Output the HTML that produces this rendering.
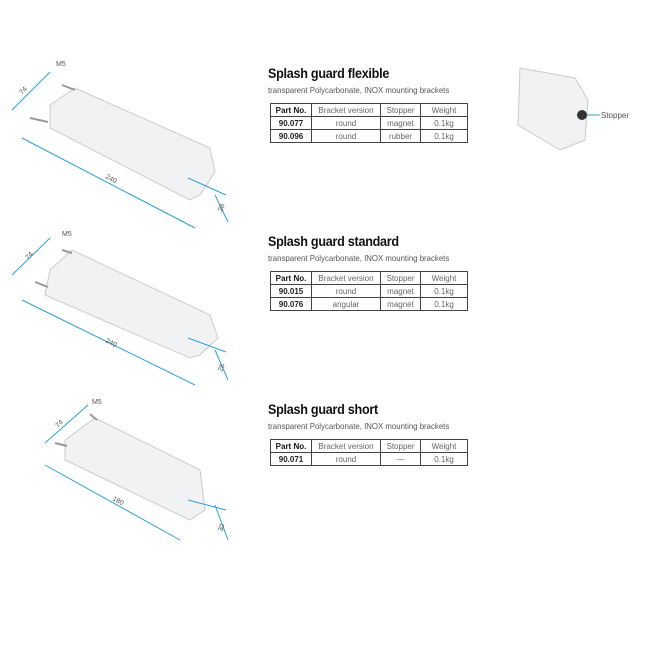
<html><body style="margin:0;width:649px;height:649px;background:#fff;position:relative;font-family:'Liberation Sans',sans-serif;overflow:hidden">
<style>
.t{position:absolute;left:268px;font-weight:bold;font-size:14px;color:#111;letter-spacing:-0.3px;transform:scaleX(0.9);transform-origin:left}
.s{position:absolute;left:268px;font-size:8.5px;color:#555;transform:scaleX(0.92);transform-origin:left}
table{position:absolute;left:270px;border-collapse:collapse;font-size:8px;color:#666}
td{border:1px solid #444;height:13px;padding:0;text-align:center}
td:first-child{font-weight:bold;color:#222}
tr:first-child td:first-child{color:#111}
</style>
<svg width="649" height="649" style="position:absolute;left:0;top:0" font-family="Liberation Sans" font-size="7" fill="#555">
<g stroke="#ccc" stroke-width="1" fill="#f1f2f4">
<polygon points="50,105 75,88 210,148 215,172 200,195 190,200 50,128"/>
<polygon points="50,270 72,250 210,315 218,338 200,355 190,358 45,295"/>
<polygon points="65,440 95,418 200,470 205,510 190,520 65,460"/>
<polygon points="520,68 575,78 588,100 585,140 560,150 518,125"/>
</g>
<g stroke="#999" stroke-width="2"><line x1="62" y1="85" x2="75" y2="90"/><line x1="30" y1="118" x2="48" y2="122"/>
<line x1="62" y1="250" x2="72" y2="253"/><line x1="35" y1="282" x2="48" y2="287"/>
<line x1="90" y1="414" x2="97" y2="420"/><line x1="55" y1="443" x2="67" y2="446"/></g>
<circle cx="582" cy="115" r="5" fill="#333"/><line x1="587" y1="115" x2="600" y2="115" stroke="#2aa3d6"/>
<text x="601" y="118" font-size="8">Stopper</text>
<g stroke="#2aa3d6" stroke-width="1" fill="none">
<line x1="12" y1="110" x2="50" y2="72"/><line x1="22" y1="138" x2="195" y2="228"/><line x1="215" y1="195" x2="228" y2="222"/><line x1="188" y1="178" x2="226" y2="195"/>
<line x1="12" y1="275" x2="50" y2="238"/><line x1="22" y1="300" x2="195" y2="385"/><line x1="215" y1="350" x2="228" y2="380"/><line x1="188" y1="338" x2="226" y2="352"/>
<line x1="45" y1="443" x2="88" y2="405"/><line x1="45" y1="465" x2="180" y2="540"/><line x1="215" y1="505" x2="228" y2="540"/><line x1="188" y1="500" x2="226" y2="510"/>
</g>
<text x="56" y="66">M5</text><text x="62" y="236">M5</text><text x="92" y="404">M5</text>
<text x="22" y="95" transform="rotate(-45 22 95)">74</text><text x="28" y="260" transform="rotate(-45 28 260)">74</text><text x="58" y="428" transform="rotate(-45 58 428)">74</text>
<text x="105" y="178" transform="rotate(28 105 178)">240</text><text x="105" y="342" transform="rotate(27 105 342)">240</text><text x="112" y="500" transform="rotate(28 112 500)">180</text>
<text x="222" y="212" transform="rotate(-70 222 212)">28</text><text x="222" y="372" transform="rotate(-70 222 372)">28</text><text x="222" y="532" transform="rotate(-70 222 532)">30</text>
</svg>
<div class="t" style="top:65px">Splash guard flexible</div>
<div class="s" style="top:85px">transparent Polycarbonate, INOX mounting brackets</div>
<table style="top:103px"><tr><td style="width:40px">Part No.</td><td style="width:68px">Bracket version</td><td style="width:39px">Stopper</td><td style="width:46px">Weight</td></tr><tr><td>90.077</td><td>round</td><td>magnet</td><td>0.1kg</td></tr><tr><td>90.096</td><td>round</td><td>rubber</td><td>0.1kg</td></tr></table>
<div class="t" style="top:233px">Splash guard standard</div>
<div class="s" style="top:253px">transparent Polycarbonate, INOX mounting brackets</div>
<table style="top:271px"><tr><td style="width:40px">Part No.</td><td style="width:68px">Bracket version</td><td style="width:39px">Stopper</td><td style="width:46px">Weight</td></tr><tr><td>90.015</td><td>round</td><td>magnet</td><td>0.1kg</td></tr><tr><td>90.076</td><td>angular</td><td>magnet</td><td>0.1kg</td></tr></table>
<div class="t" style="top:401px">Splash guard short</div>
<div class="s" style="top:421px">transparent Polycarbonate, INOX mounting brackets</div>
<table style="top:439px"><tr><td style="width:40px">Part No.</td><td style="width:68px">Bracket version</td><td style="width:39px">Stopper</td><td style="width:46px">Weight</td></tr><tr><td>90.071</td><td>round</td><td>—</td><td>0.1kg</td></tr></table>
</body></html>
